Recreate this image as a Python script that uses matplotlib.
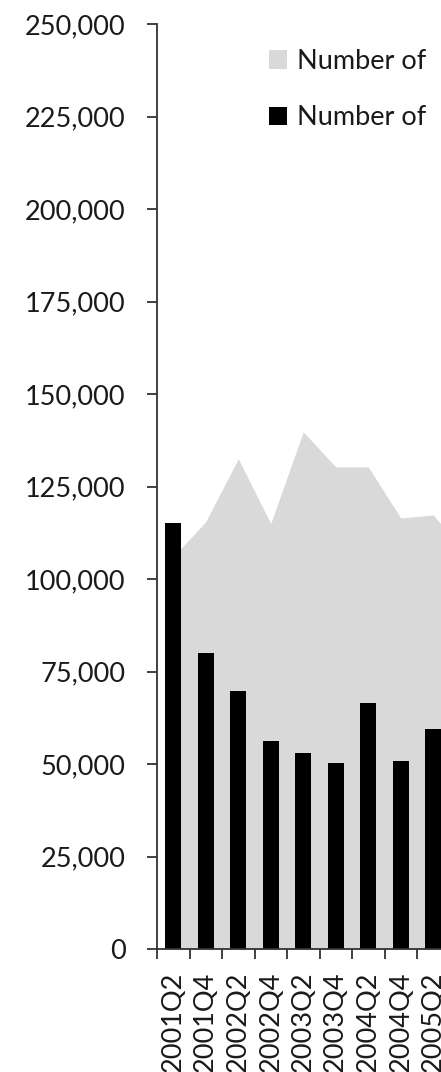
import matplotlib.pyplot as plt
import numpy as np
from matplotlib.ticker import FuncFormatter

plt.rcParams['font.family'] = ['Lato', 'DejaVu Sans']

# half-yearly periods (last one runs off the right edge of the picture)
periods = ["2001Q2", "2001Q4", "2002Q2", "2002Q4", "2003Q2", "2003Q4",
           "2004Q2", "2004Q4", "2005Q2", "2005Q4"]
area_vals = [106000, 115500, 132500, 115000, 139800, 130300, 130300,
             116500, 117300, 107000]
bar_vals = [115100, 80100, 69800, 56200, 53100, 50400, 66600, 50900,
            59500, np.nan]
legend_labels = ["Number of", "Number of"]

W, H = 441, 1072
fig = plt.figure(figsize=(W / 100, H / 100), dpi=100)

step = 32.5  # px per category
n = len(periods)
ax = fig.add_axes([157 / W, 123 / H, n * step / W, 925 / H])

x = np.arange(n)
ax.fill_between(x, area_vals, 0, color="#d9d9d9", lw=0, label=legend_labels[0], zorder=1)
ax.bar(x, bar_vals, width=0.5, color="black", label=legend_labels[1], zorder=2)

ax.set_xlim(-0.5, n - 0.5)
ax.set_ylim(0, 250000)
ax.set_yticks(np.arange(0, 250001, 25000))
ax.yaxis.set_major_formatter(FuncFormatter(lambda v, p: f"{int(v):,}"))

ax.set_xticks(np.arange(n + 1) - 0.5)
ax.set_xticklabels([])
ax.set_xticks(x, minor=True)
ax.set_xticklabels(periods, minor=True, rotation=90, va="top")

axis_col = "#333333"
for s in ["top", "right"]:
    ax.spines[s].set_visible(False)
for s in ["left", "bottom"]:
    ax.spines[s].set_color(axis_col)
    ax.spines[s].set_linewidth(1.3)

ax.tick_params(axis="y", direction="out", length=7.5, width=1.3, color=axis_col,
               labelsize=19.5, labelcolor="#1a1a1a", pad=15)
ax.tick_params(axis="x", which="major", direction="out", length=7.5, width=1.3,
               color=axis_col)
ax.tick_params(axis="x", which="minor", length=0, labelsize=19.5,
               labelcolor="#1a1a1a", pad=16)

ax.legend(loc="upper left", bbox_to_anchor=(269 / W, 1 - 49 / H),
          bbox_transform=fig.transFigure, frameon=False, fontsize=19.5,
          handlelength=0.67, handleheight=0.65, handletextpad=0.37,
          labelspacing=1.15, borderpad=0, borderaxespad=0,
          labelcolor="#1a1a1a")

fig.savefig("out.png", dpi=100)
